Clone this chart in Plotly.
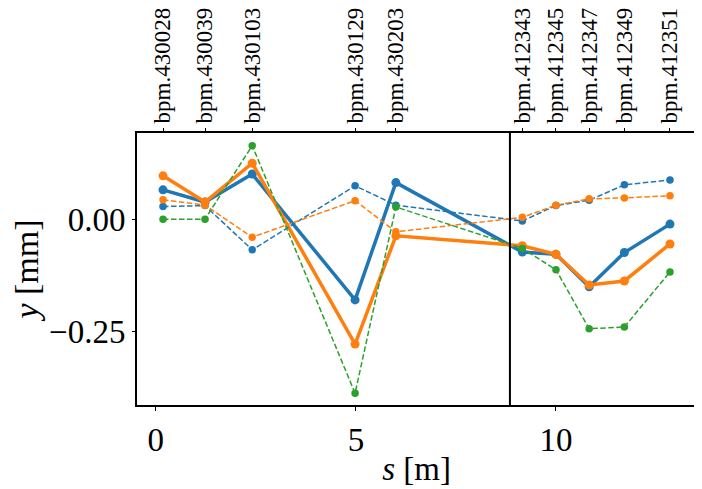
import plotly.graph_objects as go

# BPM positions and names
s_bpm = [0.18, 1.23, 2.41, 4.98, 6.0, 9.16, 10.0, 10.83, 11.71, 12.85]
bpm_names = ["bpm.430028", "bpm.430039", "bpm.430103", "bpm.430129", "bpm.430203",
             "bpm.412343", "bpm.412345", "bpm.412347", "bpm.412349", "bpm.412351"]

# orbit readings [mm]
blue_solid = [0.065, 0.038, 0.100, -0.179, 0.081, -0.073, -0.078, -0.150, -0.074, -0.011]
orange_solid = [0.096, 0.038, 0.124, -0.277, -0.037, -0.059, -0.078, -0.146, -0.137, -0.055]
blue_dashed = [0.028, 0.030, -0.068, 0.074, 0.031, -0.004, 0.030, 0.042, 0.076, 0.087]
orange_dashed = [0.043, 0.031, -0.040, 0.041, -0.028, 0.004, 0.031, 0.045, 0.047, 0.052]
green_dashed = [0.000, 0.000, 0.163, -0.386, 0.027, -0.065, -0.112, -0.243, -0.239, -0.117]

s_marker = 8.85  # vertical separator

x_range = [-0.47, 13.5]
y_range = [-0.412, 0.191]

fig = go.Figure()

def add(y, color, dash, width, size):
    fig.add_trace(go.Scatter(x=s_bpm, y=y, mode="lines+markers",
                             line=dict(color=color, dash=dash, width=width),
                             marker=dict(color=color, size=size),
                             showlegend=False))

add(blue_solid, "#1f77b4", "solid", 3.5, 9)
add(orange_solid, "#ff7f0e", "solid", 3.5, 9)
add(blue_dashed, "#1f77b4", "5.5px,2.5px", 1.5, 7.5)
add(orange_dashed, "#ff7f0e", "5.5px,2.5px", 1.5, 7.5)
add(green_dashed, "#2ca02c", "5.5px,2.5px", 1.5, 7.5)

# invisible trace for top axis
fig.add_trace(go.Scatter(x=s_bpm, y=[0] * len(s_bpm), xaxis="x2", mode="markers",
                         marker=dict(opacity=0), showlegend=False, hoverinfo="skip"))

fig.add_shape(type="line", x0=s_marker, x1=s_marker, y0=0, y1=1,
              xref="x", yref="paper", line=dict(color="black", width=2))

font_serif = "Liberation Serif"

# page body has an 8px margin, so the figure is 8px smaller than the window
fig.update_layout(
    width=694, height=481,
    margin=dict(l=129, r=6, t=125, b=84),
    plot_bgcolor="white", paper_bgcolor="white",
    font=dict(family=font_serif, color="black"),
    xaxis=dict(range=x_range, tickvals=[0, 5, 10], showgrid=False, zeroline=False,
               showline=True, linecolor="black", linewidth=2, mirror=True,
               ticks="outside", ticklen=4, tickcolor="black", automargin=False,
               tickfont=dict(size=33),
               title=dict(text="<i>s</i> [m]", font=dict(size=33), standoff=0)),
    xaxis2=dict(range=x_range, overlaying="x", side="top", tickvals=s_bpm,
                ticktext=bpm_names, tickangle=-90, showgrid=False, zeroline=False,
                ticks="outside", ticklen=4, tickcolor="black", automargin=False,
                tickfont=dict(size=23)),
    yaxis=dict(range=y_range, tickvals=[-0.25, 0.0], tickformat=".2f",
               showgrid=False, zeroline=False,
               showline=True, linecolor="black", linewidth=2, mirror=True,
               ticks="outside", ticklen=3, tickcolor="black", automargin=False,
               tickfont=dict(size=33),
               title=dict(text="<i>y</i> [mm]", font=dict(size=34), standoff=6)),
)

fig.write_html("out.html")
